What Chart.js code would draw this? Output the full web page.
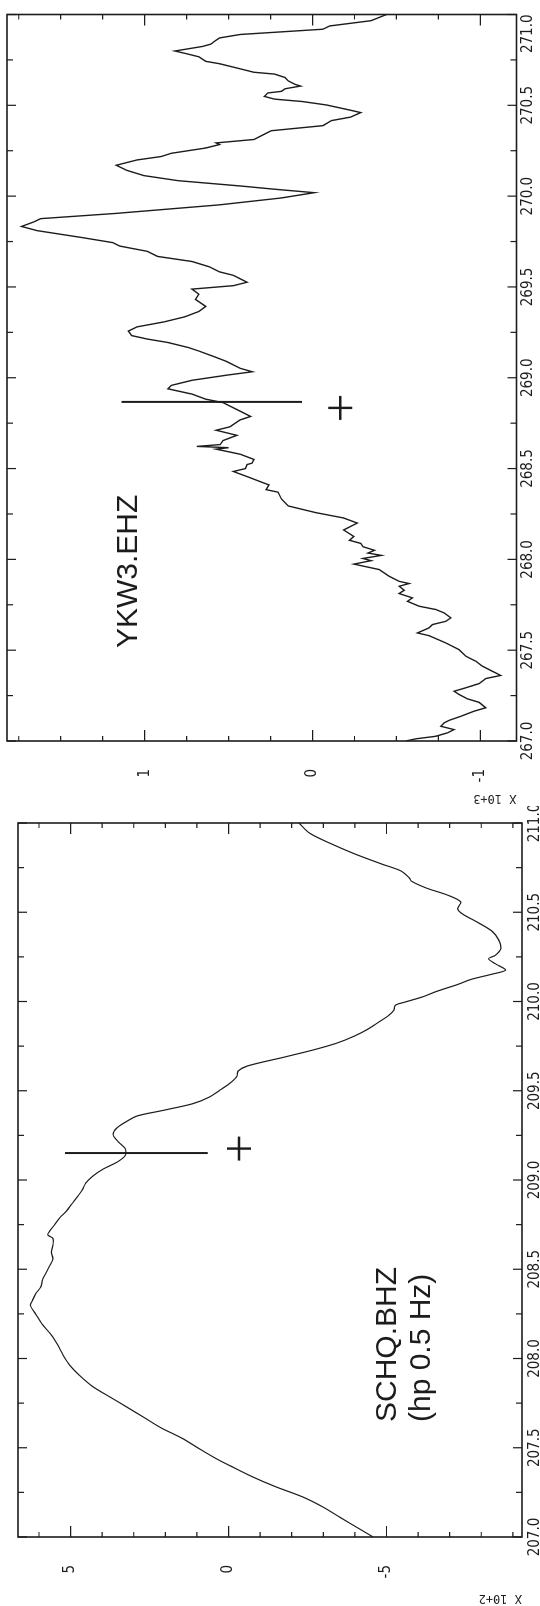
<!DOCTYPE html>
<html>
<head>
<meta charset="utf-8">
<title>SCHQ.BHZ / YKW3.EHZ</title>
<script src="https://cdn.jsdelivr.net/npm/chart.js@4.4.0/dist/chart.umd.min.js"></script>
<style>
  html, body { margin: 0; padding: 0; background: #fff; width: 540px; height: 1606px; overflow: hidden; }
  /* the two seismograms are laid out landscape and turned a quarter turn */
  #stage { position: absolute; left: 0; top: 1606px; width: 1606px; height: 540px;
           transform-origin: 0 0; transform: rotate(-90deg); background: #fff; }
  #stage canvas { position: absolute; top: 0; }
</style>
</head>
<body>
<div id="stage">
  <canvas id="schq" width="800" height="540" style="left:0px; width:800px; height:540px"></canvas>
  <canvas id="ykw3" width="806" height="540" style="left:800px; width:806px; height:540px"></canvas>
</div>
<script>
// ---- SCHQ.BHZ (hp 0.5 Hz), amplitude in units of 10^2 ----
const schqTime = [207.000, 207.051, 207.109, 207.167, 207.225, 207.283, 207.341, 207.399, 207.438, 207.495,
  207.553, 207.611, 207.669, 207.727, 207.785, 207.843, 207.901, 207.959, 208.017, 208.074,
  208.132, 208.190, 208.248, 208.296, 208.325, 208.364, 208.402, 208.441, 208.479, 208.518,
  208.557, 208.595, 208.634, 208.673, 208.692, 208.712, 208.751, 208.789, 208.828, 208.866,
  208.905, 208.944, 208.983, 209.021, 209.060, 209.099, 209.137, 209.176, 209.214, 209.253,
  209.291, 209.330, 209.359, 209.388, 209.427, 209.465, 209.504, 209.543, 209.582, 209.610,
  209.639, 209.690, 209.728, 209.767, 209.806, 209.845, 209.883, 209.922, 209.950, 209.979,
  209.998, 210.027, 210.057, 210.095, 210.124, 210.153, 210.176, 210.211, 210.240, 210.259,
  210.297, 210.346, 210.394, 210.442, 210.490, 210.519, 210.558, 210.597, 210.635, 210.674,
  210.693, 210.732, 210.770, 210.828, 210.886, 210.944, 211.000];
const schqAmp = [-4.58, -4.09, -3.54, -3.00, -2.34, -1.47, -0.71, -0.05, 0.38, 0.93,
  1.47, 2.13, 2.67, 3.21, 3.76, 4.30, 4.69, 5.01, 5.23, 5.40,
  5.61, 5.89, 6.10, 6.27, 6.21, 6.10, 5.94, 5.89, 5.78, 5.67,
  5.56, 5.61, 5.56, 5.56, 5.72, 5.67, 5.50, 5.34, 5.12, 4.96,
  4.79, 4.63, 4.52, 4.30, 3.98, 3.54, 3.27, 3.27, 3.49, 3.65,
  3.54, 3.21, 2.89, 2.13, 1.14, 0.60, 0.27, -0.05, -0.27, -0.30,
  -0.60, -1.80, -2.67, -3.43, -3.98, -4.41, -4.74, -5.07, -5.23, -5.28,
  -5.61, -6.16, -6.59, -7.25, -7.68, -8.34, -8.77, -8.45, -8.23, -8.45,
  -8.62, -8.55, -8.34, -7.90, -7.41, -7.25, -7.35, -6.92, -6.27, -5.79,
  -5.72, -5.45, -4.85, -3.98, -3.22, -2.56, -2.23];
const schqTimeTicks = [207.0, 207.5, 208.0, 208.5, 209.0, 209.5, 210.0, 210.5, 211.0];
const schqAmpTicks = [5, 0, -5];
const schqPick = { t: 209.151, from: 5.18, to: 0.655 };
const schqMark = { t: 209.176, a: -0.33 };

// ---- YKW3.EHZ, amplitude in units of 10^3 ----
const ykwTime = [267.000, 267.012, 267.026, 267.045, 267.063, 267.081, 267.100, 267.114, 267.136, 267.164,
  267.183, 267.213, 267.232, 267.256, 267.274, 267.293, 267.316, 267.344, 267.361, 267.384,
  267.412, 267.439, 267.467, 267.503, 267.540, 267.580, 267.595, 267.623, 267.641, 267.659,
  267.678, 267.705, 267.724, 267.742, 267.769, 267.788, 267.812, 267.830, 267.852, 267.867,
  267.879, 267.907, 267.944, 267.974, 267.993, 268.005, 268.022, 268.035, 268.050, 268.070,
  268.088, 268.105, 268.126, 268.162, 268.200, 268.228, 268.257, 268.294, 268.332, 268.370,
  268.384, 268.410, 268.427, 268.456, 268.484, 268.500, 268.522, 268.530, 268.550, 268.579,
  268.607, 268.615, 268.622, 268.632, 268.654, 268.683, 268.711, 268.730, 268.768, 268.787,
  268.825, 268.863, 268.882, 268.910, 268.939, 268.958, 268.986, 269.014, 269.033, 269.052,
  269.090, 269.119, 269.147, 269.166, 269.194, 269.213, 269.232, 269.257, 269.280, 269.308,
  269.336, 269.365, 269.393, 269.431, 269.460, 269.488, 269.507, 269.526, 269.545, 269.564,
  269.583, 269.611, 269.640, 269.668, 269.696, 269.725, 269.744, 269.772, 269.810, 269.833,
  269.858, 269.876, 269.905, 269.952, 269.990, 270.019, 270.038, 270.056, 270.085, 270.113,
  270.142, 270.170, 270.199, 270.218, 270.236, 270.265, 270.284, 270.293, 270.312, 270.341,
  270.360, 270.388, 270.416, 270.435, 270.460, 270.473, 270.502, 270.521, 270.534, 270.549,
  270.568, 270.577, 270.591, 270.606, 270.615, 270.634, 270.653, 270.672, 270.682, 270.701,
  270.729, 270.742, 270.767, 270.786, 270.799, 270.824, 270.837, 270.852, 270.871, 270.890,
  270.919, 270.937, 270.966, 271.000];
const ykwAmp = [-0.556, -0.615, -0.734, -0.804, -0.843, -0.764, -0.784, -0.814, -0.883, -0.962,
  -1.032, -0.992, -0.923, -0.873, -0.843, -0.913, -0.992, -1.032, -1.121, -1.071,
  -1.012, -0.973, -0.913, -0.873, -0.794, -0.694, -0.625, -0.694, -0.714, -0.794,
  -0.824, -0.784, -0.734, -0.635, -0.565, -0.595, -0.516, -0.546, -0.516, -0.575,
  -0.516, -0.456, -0.397, -0.246, -0.349, -0.300, -0.410, -0.330, -0.369, -0.300,
  -0.287, -0.220, -0.246, -0.185, -0.267, -0.185, -0.021, 0.144, 0.185, 0.205,
  0.276, 0.260, 0.308, 0.390, 0.472, 0.400, 0.390, 0.360, 0.349, 0.431,
  0.574, 0.500, 0.690, 0.550, 0.533, 0.451, 0.574, 0.492, 0.431, 0.369,
  0.451, 0.533, 0.636, 0.718, 0.861, 0.841, 0.718, 0.513, 0.359, 0.431,
  0.513, 0.595, 0.677, 0.738, 0.861, 0.984, 1.077, 1.097, 1.046, 0.882,
  0.759, 0.677, 0.636, 0.697, 0.677, 0.718, 0.472, 0.390, 0.431, 0.472,
  0.554, 0.615, 0.718, 0.923, 0.984, 1.148, 1.190, 1.374, 1.641, 1.733,
  1.661, 1.620, 1.169, 0.554, 0.185, -0.010, 0.226, 0.431, 0.800, 1.005,
  1.107, 1.169, 1.046, 0.902, 0.841, 0.636, 0.554, 0.574, 0.349, 0.287,
  0.246, -0.062, -0.113, -0.226, -0.287, -0.226, -0.082, 0.062, 0.226, 0.287,
  0.267, 0.185, 0.164, 0.072, 0.103, 0.144, 0.164, 0.226, 0.349, 0.431,
  0.554, 0.636, 0.677, 0.759, 0.820, 0.656, 0.605, 0.585, 0.554, 0.431,
  -0.062, -0.103, -0.349, -0.441];
const ykwTimeTicks = [267.0, 267.5, 268.0, 268.5, 269.0, 269.5, 270.0, 270.5, 271.0];
const ykwAmpTicks = [1, 0, -1];
const ykwPick = { t: 268.867, from: 1.138, to: 0.062 };
const ykwMark = { t: 268.834, a: -0.165 };

// ---- drawing ----
const INK = '#1c1c1c';
const TICK_FONT = "'Liberation Sans Narrow', 'DejaVu Sans Condensed', 'Liberation Sans', sans-serif";

function stepValues(min, max, step) {
  const out = [];
  for (let k = Math.ceil(min / step - 1e-6); k * step <= max + 1e-6; k++) out.push(+(k * step).toFixed(4));
  return out;
}
const isOneOf = (v, list) => list.some(m => Math.abs(m - v) < 1e-6);

// pins the plot box to a fixed place on the canvas, then draws the frame with
// inward ticks on all four sides, the station name and the amplitude scale factor
const seismoFrame = {
  id: 'seismoFrame',
  afterLayout(chart, args, o) {
    const A = o.area, x = chart.scales.x, y = chart.scales.y;
    chart.chartArea = { left: A.left, top: A.top, right: A.right, bottom: A.bottom,
                        width: A.right - A.left, height: A.bottom - A.top };
    Object.assign(x, { left: A.left, right: A.right, width: A.right - A.left,
                       top: A.bottom, bottom: chart.height, height: chart.height - A.bottom });
    Object.assign(y, { left: 0, right: A.left, width: A.left,
                       top: A.top, bottom: A.bottom, height: A.bottom - A.top });
    x.configure();
    y.configure();
  },
  afterDatasetsDraw(chart, args, o) {
    const { ctx, chartArea: a, scales: { x, y } } = chart;
    ctx.save();
    ctx.strokeStyle = INK;
    ctx.lineWidth = 1.6;
    ctx.strokeRect(a.left, a.top, a.right - a.left, a.bottom - a.top);
    ctx.lineWidth = 1.2;
    ctx.beginPath();
    stepValues(x.min, x.max, o.xMinorStep).forEach(v => {
      const p = x.getPixelForValue(v);
      const len = isOneOf(v, o.xMajor) ? 9 : 6;
      ctx.moveTo(p, a.bottom); ctx.lineTo(p, a.bottom - len);
      ctx.moveTo(p, a.top); ctx.lineTo(p, a.top + len);
    });
    stepValues(y.min, y.max, o.yMinorStep).forEach(v => {
      const p = y.getPixelForValue(v);
      const len = isOneOf(v, o.yMajor) ? 11 : 5;
      ctx.moveTo(a.left, p); ctx.lineTo(a.left + len, p);
      ctx.moveTo(a.right, p); ctx.lineTo(a.right - len, p);
    });
    ctx.stroke();

    ctx.fillStyle = INK;
    ctx.font = "30px 'Liberation Sans', Arial, sans-serif";
    ctx.textAlign = 'left';
    ctx.textBaseline = 'alphabetic';
    const nx = x.getPixelForValue(o.name.x);
    o.name.lines.forEach((line, i) => ctx.fillText(line, nx, y.getPixelForValue(o.name.y[i])));

    ctx.font = "12px 'DejaVu Sans Mono', monospace";
    ctx.translate(8, a.bottom);
    ctx.rotate(-Math.PI / 2);
    ctx.textBaseline = 'middle';
    ctx.fillText(o.multiplier, 0, 0);
    ctx.restore();
  }
};

function seismogram(id, c) {
  return new Chart(document.getElementById(id), {
    type: 'scatter',
    data: {
      datasets: [
        { data: c.time.map((t, i) => ({ x: t, y: c.amp[i] })), showLine: true, borderColor: INK,
          borderWidth: c.lineWidth, pointRadius: 0, tension: c.tension },
        { data: [{ x: c.pick.t, y: c.pick.from }, { x: c.pick.t, y: c.pick.to }], showLine: true,
          borderColor: INK, borderWidth: 2, pointRadius: 0 },
        { data: [{ x: c.mark.t, y: c.mark.a }], showLine: false, pointStyle: 'cross', pointRadius: 12,
          pointBorderWidth: 2.4, pointBorderColor: INK, borderColor: INK }
      ]
    },
    options: {
      responsive: false,
      maintainAspectRatio: false,
      animation: false,
      devicePixelRatio: 1,
      layout: { autoPadding: false, padding: 0 },
      plugins: {
        legend: { display: false },
        tooltip: { enabled: false },
        seismoFrame: { area: c.area, xMinorStep: 0.25, xMajor: c.timeTicks, yMinorStep: c.ampMinorStep,
                       yMajor: c.ampTicks, name: c.name, multiplier: c.multiplier }
      },
      scales: {
        x: {
          type: 'linear', position: 'bottom', min: c.tMin, max: c.tMax,
          grid: { display: false, drawTicks: false }, border: { display: false },
          ticks: { padding: c.xPad, color: INK, font: { family: TICK_FONT, size: 15 },
                   maxRotation: 0, minRotation: 0, autoSkip: false,
                   // the last label is kept inside the box end: trailing blanks push it left
                   callback: (v, i, all) => v.toFixed(1) + (c.holdLastLabel && i === all.length - 1 ? ' '.repeat(9) : '') },
          afterBuildTicks: s => { s.ticks = c.timeTicks.map(v => ({ value: v })); }
        },
        y: {
          type: 'linear', position: 'left', min: c.aMin, max: c.aMax,
          grid: { display: false, drawTicks: false }, border: { display: false },
          ticks: { padding: 28, color: INK, font: { family: TICK_FONT, size: 15 }, callback: v => String(v) },
          afterBuildTicks: s => { s.ticks = c.ampTicks.map(v => ({ value: v })); }
        }
      }
    },
    plugins: [seismoFrame]
  });
}

seismogram('schq', {
  time: schqTime, amp: schqAmp, timeTicks: schqTimeTicks, ampTicks: schqAmpTicks,
  pick: schqPick, mark: schqMark, tMin: 207, tMax: 211, aMin: -9.29, aMax: 6.665,
  ampMinorStep: 1, lineWidth: 1.2, tension: 0.3,
  area: { left: 69, top: 18, right: 783, bottom: 522 }, xPad: 4, holdLastLabel: false,
  name: { x: 207.644, y: [-5.30, -6.38], lines: ['SCHQ.BHZ', '(hp 0.5 Hz)'] },
  multiplier: 'X 10+2'
});

seismogram('ykw3', {
  time: ykwTime, amp: ykwAmp, timeTicks: ykwTimeTicks, ampTicks: ykwAmpTicks,
  pick: ykwPick, mark: ykwMark, tMin: 267, tMax: 271, aMin: -1.215, aMax: 1.82,
  ampMinorStep: 0.25, lineWidth: 1.4, tension: 0,
  area: { left: 65, top: 7, right: 791.5, bottom: 516.5 }, xPad: 3, holdLastLabel: true,
  name: { x: 267.512, y: [1.045], lines: ['YKW3.EHZ'] },
  multiplier: 'X 10+3'
});
</script>
</body>
</html>
